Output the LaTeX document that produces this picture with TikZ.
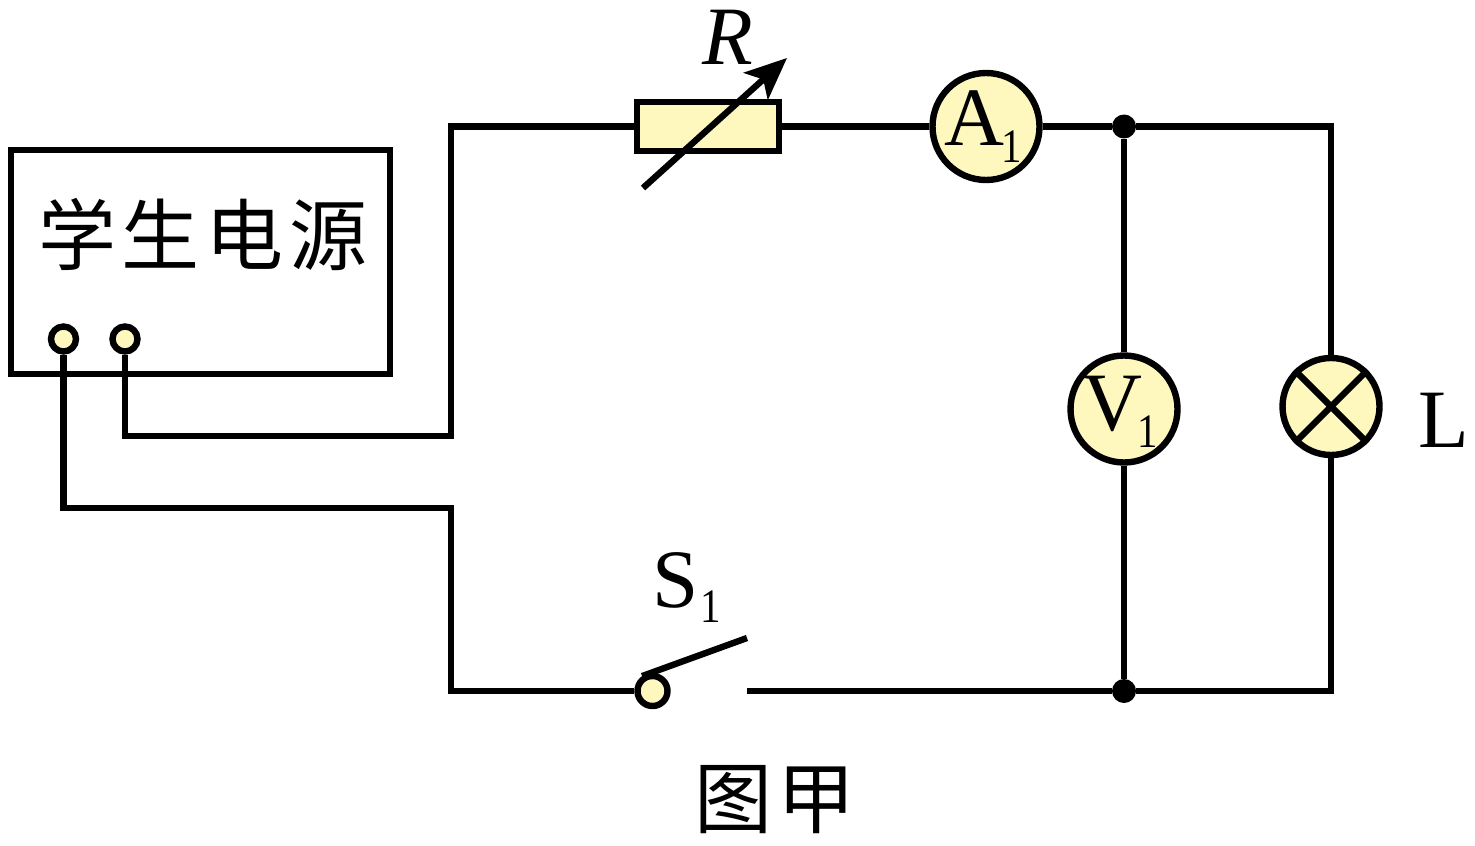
\documentclass[tikz,border=0pt]{standalone}
\usepackage{fontspec}
\setmainfont{Liberation Serif}
\newfontfamily\cjk{Noto Sans CJK SC}
\usetikzlibrary{arrows.meta,calc,positioning}
\definecolor{fillyellow}{RGB}{255,248,190}
\tikzset{
wire/.style={line width=3.2pt},
meter/.style={circle,draw,line width=3.2pt,fill=fillyellow,minimum size=53.5pt,inner sep=0pt},
post/.style={circle,draw,line width=3.2pt,fill=fillyellow,minimum size=12.5pt,inner sep=0pt},
dot/.style={circle,fill=black,minimum size=12pt,inner sep=0pt},
lbl/.style={inner sep=0pt,font=\fontsize{41.5}{41.5}\selectfont},
sublbl/.style={inner sep=0pt,xscale=.85,font=\fontsize{24}{24}\selectfont},
hanzi/.style={inner sep=0pt,font=\cjk\fontsize{39}{39}\selectfont}
}
\begin{document}
\begin{tikzpicture}[x=0.5pt,y=-0.5pt]
\useasboundingbox (0,0) rectangle (1475,845);

\node[draw,line width=3.2pt,minimum width=189.5pt,minimum height=112pt,inner sep=0pt] (supply) at (200.5,262) {};
\node[hanzi] (supplytext) at (203,235) {学\hspace{3pt}生\hspace{3pt}电\hspace{3pt}源};
\node[post] (p1) at (63.5,339) {};
\node[post] (p2) at (125,339) {};

\coordinate (c1) at (125,436);
\coordinate (c2) at (451,436);
\coordinate (c3) at (451,126.5);
\coordinate (c4) at (63.5,508);
\coordinate (c5) at (451,508);
\coordinate (c6) at (451,691);
\coordinate (c7) at (1331,126.5);
\coordinate (c8) at (1331,691);

\node[draw,line width=3.2pt,fill=fillyellow,minimum width=71pt,minimum height=24.5pt,inner sep=0pt] (R) at (708,126.5) {};
\node[meter] (A) at (986,126.5) {};
\node[dot] (j1) at (1124,126.5) {};
\node[dot] (j2) at (1124,691) {};
\node[meter] (V) at (1124,409) {};
\node[meter,minimum size=48.5pt] (L) at (1331,406.5) {};
\node[post,minimum size=15pt] (s0) at (652.5,691) {};
\coordinate (s1) at (747,638);
\coordinate (s2) at (747,691);
\coordinate (rs) at (643,188);
\coordinate (re) at (787,58);

% wires
\draw[wire] (p2) -- (c1) -- (c2) -- (c3) -- (R);
\draw[wire] (R) -- (A);
\draw[wire] (A) -- (j1) -- (c7) -- (L);
\draw[wire] (L) -- (c8) -- (j2);
\draw[wire] (j1) -- (V);
\draw[wire] (V) -- (j2);
\draw[wire] (j2) -- (s2);
\draw[wire] (p1) -- (c4) -- (c5) -- (c6) -- (s0);
\draw[wire] (s0.125) -- (s1);

% arrow through the resistor
\draw[wire,-{Stealth[length=21pt,width=18pt,inset=5pt]}] (rs) -- (re);

% lamp cross
\draw[wire] (L.45) -- (L.225);
\draw[wire] (L.135) -- (L.315);

% labels
\node[lbl] (Rlbl) at (727.5,37) {\textit{R}};
\node[lbl] (Alab) at (974,118) {A};
\node[sublbl] (Asub) at (1011.5,147) {1};
\node[lbl] (Vlab) at (1112,404) {V};
\node[sublbl] (Vsub) at (1148,432) {1};
\node[lbl] (Llab) at (1444,420) {L};
\node[lbl] (Slab) at (676,580) {S};
\node[sublbl] (Ssub) at (711,607) {1};
\node[hanzi] (cap) at (775,800) {图\hspace{3pt}甲};
\end{tikzpicture}
\end{document}
